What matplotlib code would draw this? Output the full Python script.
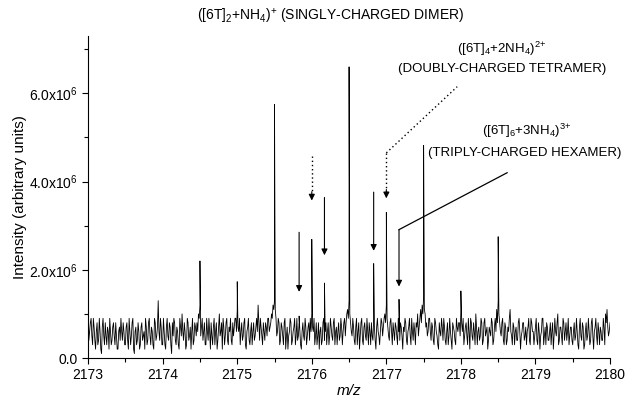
import numpy as np
import matplotlib
matplotlib.use("Agg")
import matplotlib.pyplot as plt
from matplotlib.ticker import MultipleLocator, FixedLocator

plt.rcParams['font.family'] = ['Liberation Sans', 'DejaVu Sans']
plt.rcParams['mathtext.default'] = 'regular'

# baseline noise (units of 1e5): one value every 0.02 m/z from 2173.00 to 2180.00
noise = [
    11, 6, 9, 3, 7, 2, 8, 4, 6, 1, 9, 3, 5, 7, 2, 6, 4, 8, 3, 5, 2, 7, 9, 4, 6,
    3, 8, 2, 6, 5, 9, 1, 7, 4, 6, 3, 8, 5, 2, 7, 4, 9, 3, 6, 2, 8, 5, 13, 4, 7,
    3, 6, 2, 9, 4, 7, 1, 5, 8, 3, 6, 2, 7, 10, 4, 6, 3, 8, 5, 2, 9, 4, 7, 8, 10,
    12, 7, 4, 8, 3, 6, 9, 2, 5, 7, 3, 8, 4, 10, 6, 2, 7, 5, 9, 3, 6, 4, 8, 7, 9,
    11, 6, 3, 8, 5, 9, 2, 7, 4, 6, 3, 8, 5, 9, 12, 4, 7, 3, 6, 8, 5, 9, 7, 10, 12,
    13, 9, 6, 8, 4, 7, 3, 9, 5, 2, 6, 8, 4, 7, 3, 9, 5, 6, 2, 8, 4, 7, 5, 8, 9,
    10, 6, 3, 8, 5, 2, 7, 4, 9, 6, 3, 8, 5, 7, 4, 9, 6, 3, 8, 5, 7, 6, 9, 8, 11,
    13, 8, 5, 7, 3, 9, 6, 2, 8, 4, 7, 5, 9, 3, 6, 8, 4, 7, 2, 9, 5, 6, 8, 7, 10,
    12, 7, 4, 9, 3, 6, 8, 5, 9, 4, 7, 2, 6, 8, 3, 7, 5, 9, 4, 6, 8, 10, 7, 11, 12,
    14, 10, 8, 6, 9, 4, 7, 3, 8, 5, 2, 6, 9, 4, 7, 3, 8, 5, 6, 2, 7, 4, 9, 6, 8,
    11, 6, 3, 7, 5, 9, 2, 8, 4, 6, 10, 3, 7, 5, 8, 4, 9, 6, 2, 7, 5, 8, 4, 9, 11,
    13, 8, 5, 9, 3, 7, 4, 6, 11, 5, 8, 3, 7, 4, 9, 2, 6, 8, 5, 3, 7, 4, 9, 6, 3,
    7, 4, 8, 2, 6, 9, 5, 3, 7, 4, 8, 6, 2, 9, 5, 10, 4, 7, 3, 8, 6, 4, 9, 5, 7,
    3, 8, 5, 6, 2, 9, 4, 7, 3, 8, 5, 6, 4, 9, 2, 7, 5, 8, 3, 6, 4, 7, 10, 11, 5,
    8,
]
# in-between samples at 2173.01, 2173.03, ... 2179.99
noise_mid = [
    4, 8, 5, 9, 4, 6, 3, 9, 2, 7, 5, 8, 3, 6, 9, 3, 7, 5, 8, 2, 6, 4, 6, 8, 3,
    7, 4, 9, 3, 8, 2, 6, 3, 8, 2, 7, 4, 6, 9, 3, 8, 5, 7, 3, 9, 4, 7, 6, 9, 3,
    9, 3, 7, 5, 8, 3, 8, 9, 4, 7, 3, 9, 5, 6, 8, 2, 9, 4, 7, 6, 3, 8, 5, 6, 9,
    5, 9, 6, 3, 9, 4, 6, 8, 3, 9, 6, 2, 7, 5, 8, 9, 3, 8, 4, 7, 9, 3, 5, 9, 6,
    7, 9, 6, 4, 8, 3, 6, 9, 3, 8, 6, 4, 7, 6, 8, 9, 5, 8, 4, 7, 9, 6, 8, 9, 11,
    11, 5, 9, 3, 8, 5, 8, 2, 7, 5, 9, 3, 6, 9, 5, 4, 8, 3, 6, 5, 9, 3, 7, 4, 6,
    7, 9, 5, 3, 8, 6, 3, 8, 4, 8, 6, 3, 9, 5, 8, 3, 7, 6, 4, 9, 3, 8, 5, 10, 9,
    10, 6, 9, 4, 7, 3, 8, 5, 9, 3, 8, 4, 6, 8, 3, 5, 9, 4, 7, 6, 3, 9, 5, 9, 8,
    9, 5, 8, 6, 8, 4, 7, 3, 6, 8, 5, 7, 9, 4, 6, 9, 3, 6, 8, 3, 7, 5, 9, 8, 10,
    11, 7, 5, 9, 6, 8, 4, 9, 6, 3, 8, 5, 7, 9, 4, 6, 3, 9, 4, 8, 6, 3, 7, 8, 5,
    8, 9, 5, 8, 3, 6, 9, 5, 8, 3, 7, 6, 4, 9, 3, 8, 5, 7, 4, 6, 9, 3, 7, 6, 8,
    10, 6, 8, 4, 8, 3, 7, 9, 6, 3, 7, 6, 4, 8, 6, 5, 8, 4, 7, 6, 9, 3, 8, 6, 5,
    9, 3, 6, 5, 9, 3, 7, 8, 4, 6, 3, 8, 5, 6, 8, 3, 7, 5, 9, 4, 8, 6, 3, 7, 4,
    6, 4, 9, 3, 7, 5, 8, 2, 6, 4, 9, 3, 8, 5, 6, 9, 3, 6, 7, 4, 9, 3, 8, 7, 6,
]

# isotope peaks (m/z, intensity in 1e6)
peak_mz = [2174.50, 2175.00, 2175.50, 2175.83, 2176.00, 2176.17, 2176.50,
           2176.83, 2177.00, 2177.17, 2177.50, 2178.00, 2178.50]
peak_int = [2.2, 1.73, 5.75, 0.95, 2.69, 1.7, 6.6,
            2.14, 3.3, 1.33, 4.82, 1.52, 2.75]

# arrows: doubly-charged tetramer (dotted) and triply-charged hexamer (solid)
tetramer_mz = [2176.00, 2177.00]
tetramer_top = [4.57, 4.65]
tetramer_tip = [3.57, 3.62]
hexamer_mz = [2175.83, 2176.17, 2176.83, 2177.17]
hexamer_top = [2.85, 3.64, 3.76, 2.91]
hexamer_tip = [1.50, 2.33, 2.43, 1.62]

grid = np.round(np.arange(len(noise)) * 0.02 + 2173.0, 2)
grid_mid = np.round(np.arange(len(noise_mid)) * 0.02 + 2173.01, 2)
mz = np.concatenate([grid, grid_mid, peak_mz])
inten = np.concatenate([np.array(noise) * 1e5, np.array(noise_mid) * 1e5,
                        np.array(peak_int) * 1e6])
order = np.argsort(mz, kind='stable')
mz, inten = mz[order], inten[order]

fig = plt.figure(figsize=(6.25, 4), dpi=100)
ax = fig.add_axes([0.141, 0.105, 0.835, 0.805])
ax.plot(mz, inten, color='black', lw=0.6)

ax.set_xlim(2173, 2180)
ax.set_ylim(0, 7.3e6)
for s in ['top', 'right']:
    ax.spines[s].set_visible(False)
ax.xaxis.set_major_locator(MultipleLocator(1))
ax.xaxis.set_minor_locator(MultipleLocator(0.5))
ax.yaxis.set_major_locator(FixedLocator([0, 2e6, 4e6, 6e6]))
ax.yaxis.set_minor_locator(FixedLocator([1e6, 3e6, 5e6, 7e6]))
ax.set_yticklabels(['0.0', '2.0x10$^6$', '4.0x10$^6$', '6.0x10$^6$'])
ax.tick_params(which='major', length=4, width=0.8, labelsize=10)
ax.tick_params(which='minor', length=3, width=0.8)
ax.set_xlabel('m/z', style='italic', fontsize=11, labelpad=1)
ax.set_ylabel('Intensity (arbitrary units)', fontsize=11, labelpad=1)

head = dict(arrowstyle='-|>', color='black', lw=0.8, mutation_scale=9,
            shrinkA=0, shrinkB=0)
for x, top, tip in zip(tetramer_mz, tetramer_top, tetramer_tip):
    ax.plot([x, x], [top * 1e6, (tip + 0.15) * 1e6], color='black',
            lw=1.0, ls=(0, (1, 2)))
    ax.annotate('', xy=(x, tip * 1e6), xytext=(x, (tip + 0.2) * 1e6),
                arrowprops=head)
for x, top, tip in zip(hexamer_mz, hexamer_top, hexamer_tip):
    ax.annotate('', xy=(x, tip * 1e6), xytext=(x, top * 1e6),
                arrowprops=head)

# leader lines to the labels
ax.plot([tetramer_mz[1], 2177.95], [tetramer_top[1] * 1e6, 6.15e6],
        color='black', lw=1.0, ls=(0, (1, 2)), clip_on=False)
ax.plot([hexamer_mz[3], 2178.62], [hexamer_top[3] * 1e6, 4.2e6],
        color='black', lw=0.9, clip_on=False)

ax.text(2176.25, 7.75e6, '([6T]$_2$+NH$_4$)$^{{+}}$ (SINGLY-CHARGED DIMER)',
        ha='center', va='center', fontsize=10)
ax.text(2178.55, 7.0e6, '([6T]$_4$+2NH$_4$)$^{2{+}}$',
        ha='center', va='center', fontsize=9.5)
ax.text(2178.55, 6.55e6, '(DOUBLY-CHARGED TETRAMER)',
        ha='center', va='center', fontsize=9.5)
ax.text(2178.88, 5.15e6, '([6T]$_6$+3NH$_4$)$^{3{+}}$',
        ha='center', va='center', fontsize=9.5)
ax.text(2180.15, 4.65e6, '(TRIPLY-CHARGED HEXAMER)',
        ha='right', va='center', fontsize=9.5)

fig.savefig('out.png', dpi=100)
